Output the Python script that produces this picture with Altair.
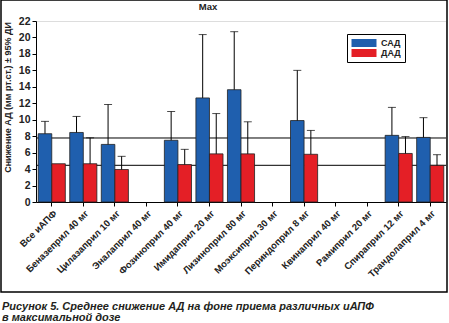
import altair as alt
import pandas as pd

categories = ["Все иАПФ", "Беназеприл 40 мг", "Цилазаприл 10 мг", "Эналаприл 40 мг",
              "Фозиноприл 40 мг", "Имидаприл 20 мг", "Лизиноприл 80 мг", "Моэксиприл 30 мг",
              "Периндоприл 8 мг", "Квинаприл 40 мг", "Рамиприл 20 мг", "Спираприл 12 мг",
              "Трандолаприл 4 мг"]
sad = [8.3, 8.45, 7.0, None, 7.5, 12.65, 13.65, None, 9.9, None, None, 8.1, 7.85]
sad_ci = [9.8, 10.4, 11.85, None, 11.0, 20.35, 20.7, None, 16.0, None, None, 11.5, 10.25]
dad = [4.65, 4.65, 3.95, None, 4.55, 5.85, 5.85, None, 5.8, None, None, 5.9, 4.45]
dad_ci = [None, 7.8, 5.55, None, 6.4, 10.75, 9.75, None, 8.7, None, None, 7.95, 5.75]
ref_lines = [7.78, 4.46]
y_ticks = list(range(0, 23, 2))
series = ["САД", "ДАД"]
colors = ["#1f5fae", "#e41f26"]
title_text = "Max"
y_title = "Снижение АД (мм рт.ст.) ± 95% ДИ"
caption = "Рисунок 5. Среднее снижение АД на фоне приема различных иАПФ\nв максимальной дозе"

rows = []
for i, c in enumerate(categories):
    for s, v, u in ((series[0], sad[i], sad_ci[i]), (series[1], dad[i], dad_ci[i])):
        if v is not None:
            rows.append({"cat": c, "series": s, "value": v, "upper": u})
df = pd.DataFrame(rows)
ref_df = pd.DataFrame({"y": ref_lines})

FONT = "Liberation Sans"
xenc = alt.X("cat:N", sort=categories,
             scale=alt.Scale(domain=categories, paddingInner=0.14, paddingOuter=0.07),
             axis=alt.Axis(title=None, labelAngle=-45, labelFont=FONT, labelFontWeight="bold",
                           labelFontSize=9.5, labelColor="#222", tickColor="black",
                           domainColor="black", tickSize=4, labelPadding=2))
xoff = alt.XOffset("series:N", sort=series, scale=alt.Scale(domain=series, paddingInner=0, paddingOuter=0))
yscale = alt.Scale(domain=[0, 22], nice=False)
yaxis = alt.Axis(title=y_title, values=y_ticks, grid=False, labelOverlap=False,
                 labelFont=FONT, labelFontWeight="bold", labelFontSize=10.5,
                 labelColor="#222", tickColor="black", domainColor="black", tickSize=4,
                 titleFont=FONT, titleFontWeight="bold", titleFontSize=9, titleColor="#222",
                 titleAngle=-90, titleX=-29, titleY=76, titleAlign="center",
                 titleBaseline="middle")


def Y(field):
    return alt.Y(field, scale=yscale, axis=yaxis, title=y_title)


base = alt.Chart(df)

bars = base.mark_bar(stroke="#222", strokeWidth=0.8).encode(
    x=xenc, xOffset=xoff, y=Y("value:Q"),
    color=alt.Color("series:N", sort=series, scale=alt.Scale(domain=series, range=colors),
                    legend=alt.Legend(title=None, orient="none", legendX=311, legendY=13,
                                      symbolType="M-2.5,-0.8H2.5V0.8H-2.5Z", symbolSize=100,
                                      symbolStrokeWidth=0, symbolOffset=8, labelOffset=12,
                                      labelFont=FONT, labelFontWeight="bold", labelFontSize=9,
                                      labelColor="#222", strokeColor="black", padding=4,
                                      rowPadding=0, fillColor="white")),
)

err = base.transform_filter("isValid(datum.upper)").mark_rule(color="black", strokeWidth=1).encode(
    x=xenc, xOffset=xoff, y=Y("value:Q"), y2="upper:Q")
caps = base.transform_filter("isValid(datum.upper)").mark_tick(
    color="black", orient="horizontal", size=8, thickness=1).encode(
    x=xenc, xOffset=xoff, y=Y("upper:Q"))

refs = alt.Chart(ref_df).mark_rule(color="black", strokeWidth=1).encode(y=Y("y:Q"))

one = pd.DataFrame({"a": [0]})
frame = alt.Chart(one).mark_rect(
    fill=None, stroke="black", strokeWidth=1.5).encode(
    x=alt.value(-35), x2=alt.value(411), y=alt.value(-21), y2=alt.value(271))

title_mark = alt.Chart(one).mark_text(
    align="center", baseline="middle", font=FONT, fontWeight="bold", fontSize=9.5,
    color="#222").encode(x=alt.value(172), y=alt.value(-14), text=alt.value(title_text))

cap_text = alt.Chart(one).mark_text(
    align="left", baseline="top", font=FONT, fontStyle="italic", fontWeight="bold",
    fontSize=11, color="#231f20", lineBreak="\n", lineHeight=11).encode(
    x=alt.value(-34), y=alt.value(280), text=alt.value(caption))

chart = alt.layer(refs, bars, err, caps, frame, title_mark, cap_text).properties(
    width=410, height=181,
    autosize=alt.AutoSizeParams(type="none"),
    padding={"left": 36, "top": 21, "right": 3, "bottom": 121},
).configure_view(stroke=None).configure(background="white")

chart.save("out.html", embed_options={"renderer": "svg", "actions": False})
